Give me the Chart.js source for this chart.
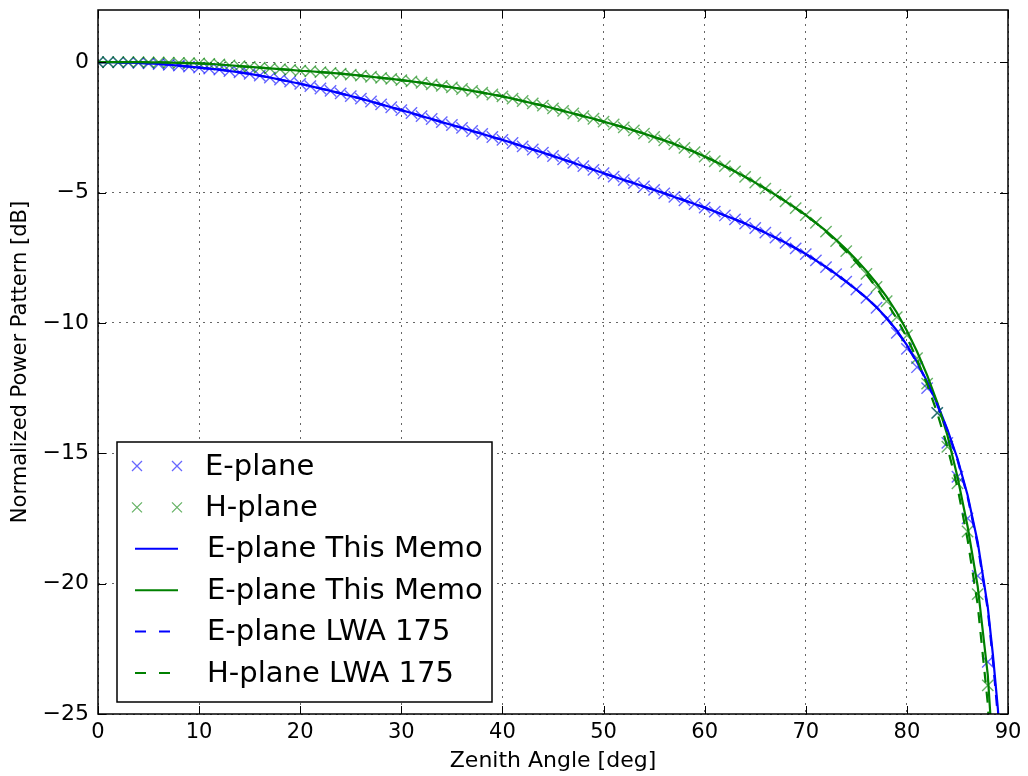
<!DOCTYPE html>
<html>
<head>
<meta charset="utf-8">
<script src="https://cdn.jsdelivr.net/npm/chart.js@4.4.1/dist/chart.umd.min.js"></script>
<style>
  html, body { margin: 0; padding: 0; background: #fff; }
  #patternChart { display: block; }
</style>
</head>
<body>
<canvas id="patternChart" width="1028" height="776"></canvas>
<script>
// zenith angles (deg) where the measured points sit
const markAngles = [
  0, 1, 2, 3, 4, 5, 6, 7, 8, 9, 10, 11, 12, 13, 14, 15, 16, 17, 18, 19,
  20, 21, 22, 23, 24, 25, 26, 27, 28, 29, 30, 31, 32, 33, 34, 35, 36, 37, 38, 39,
  40, 41, 42, 43, 44, 45, 46, 47, 48, 49, 50, 51, 52, 53, 54, 55, 56, 57, 58, 59,
  60, 61, 62, 63, 64, 65, 66, 67, 68, 69, 70, 71, 72, 73, 74, 75, 76, 77, 78, 79,
  80, 81, 82, 83, 84, 85, 86, 87, 88
];
const extraAngles = [88.5, 89, 89.5];

// E-plane, 0..76 deg, shared by markers and both curves (they overlap there)
const eHead = [
  0, 0, -0.01, -0.02, -0.03, -0.05, -0.07, -0.10, -0.13, -0.17,
  -0.21, -0.25, -0.29, -0.34, -0.39, -0.45, -0.52, -0.59, -0.67, -0.75,
  -0.83, -0.92, -1.01, -1.10, -1.20, -1.30, -1.40, -1.51, -1.62, -1.73,
  -1.84, -1.95, -2.07, -2.18, -2.30, -2.41, -2.52, -2.64, -2.75, -2.87,
  -2.98, -3.10, -3.23, -3.35, -3.47, -3.60, -3.73, -3.86, -3.99, -4.13,
  -4.26, -4.39, -4.52, -4.64, -4.77, -4.90, -5.03, -5.17, -5.30, -5.44,
  -5.58, -5.73, -5.88, -6.03, -6.19, -6.36, -6.54, -6.73, -6.93, -7.14,
  -7.36, -7.60, -7.86, -8.13, -8.42, -8.72, -9.04
];
const eMarkTail = [-9.42, -9.85, -10.38, -11.0, -11.7, -12.5, -13.45, -14.6, -15.9, -17.5, -19.7, -23.0];
const eMemoTail = [-9.40, -9.81, -10.29, -10.85, -11.5, -12.25, -13.1, -14.08, -15.2, -16.6, -18.4, -20.9, -22.7, -24.8, -28];
const eLwaTail = [-9.40, -9.82, -10.31, -10.87, -11.53, -12.28, -13.14, -14.12, -15.25, -16.66, -18.5, -21.0, -22.9, -25.1, -28.5];

// H-plane, 0..71 deg
const hHead = [
  0, 0, 0, 0, 0, -0.01, -0.01, -0.02, -0.03, -0.04,
  -0.05, -0.07, -0.09, -0.12, -0.15, -0.18, -0.21, -0.24, -0.27, -0.30,
  -0.33, -0.35, -0.38, -0.41, -0.44, -0.48, -0.52, -0.56, -0.60, -0.64,
  -0.69, -0.74, -0.79, -0.85, -0.91, -0.97, -1.03, -1.10, -1.17, -1.24,
  -1.31, -1.40, -1.49, -1.58, -1.67, -1.77, -1.87, -1.97, -2.07, -2.17,
  -2.28, -2.39, -2.50, -2.62, -2.74, -2.87, -3.00, -3.14, -3.29, -3.45,
  -3.62, -3.80, -3.99, -4.19, -4.40, -4.62, -4.85, -5.09, -5.34, -5.60,
  -5.87, -6.16
];
const hMarkTail = [-6.5, -6.86, -7.25, -7.67, -8.12, -8.62, -9.17, -9.78, -10.48, -11.35, -12.33, -13.45, -14.75, -16.15, -18.0, -20.4, -23.9];
const hMemoTail = [-6.47, -6.81, -7.18, -7.58, -8.01, -8.48, -9.0, -9.6, -10.3, -11.1, -12.0, -13.05, -14.3, -15.9, -17.8, -20.1, -23.5, -26.5, -31, -38];
const hLwaTail = [-6.5, -6.87, -7.26, -7.68, -8.14, -8.65, -9.21, -9.84, -10.56, -11.4, -12.35, -13.45, -14.75, -16.3, -18.3, -20.8, -24.6, -28, -33, -40];

const xTicks = [0, 10, 20, 30, 40, 50, 60, 70, 80, 90];
const yTicks = [-25, -20, -15, -10, -5, 0];

const BLUE = "#0000ff";
const GREEN = "#008000";
const FONT = "'DejaVu Sans', 'Liberation Sans', sans-serif";

function toPoints(xs, ys) {
  return ys.map((y, i) => ({ x: xs[i], y }));
}

const lineAngles = markAngles.concat(extraAngles);

function markerSet(label, color, values) {
  return {
    label,
    data: toPoints(markAngles, values),
    showLine: false,
    pointStyle: "crossRot",
    pointRadius: 8,
    pointBorderWidth: 1.4,
    pointBorderColor: color,
    borderColor: color,
    backgroundColor: color
  };
}

function lineSet(label, color, values, dash) {
  return {
    label,
    data: toPoints(lineAngles, values),
    borderColor: color,
    borderWidth: 2.2,
    borderDash: dash,
    pointRadius: 0,
    tension: 0,
    fill: false
  };
}

const datasets = [
  { ...markerSet("E-plane", "rgba(0, 0, 255, 0.6)", eHead.concat(eMarkTail)), order: 6 },
  { ...markerSet("H-plane", "rgba(0, 128, 0, 0.6)", hHead.concat(hMarkTail)), order: 5 },
  { ...lineSet("E-plane This Memo", BLUE, eHead.concat(eMemoTail), []), order: 4 },
  { ...lineSet("E-plane This Memo", GREEN, hHead.concat(hMemoTail), []), order: 3 },
  { ...lineSet("E-plane LWA 175", BLUE, eHead.concat(eLwaTail), [11, 9]), order: 2 },
  { ...lineSet("H-plane LWA 175", GREEN, hHead.concat(hLwaTail), [11, 9]), order: 1 }
];

// white page, black frame, inward ticks on all four sides
const framePlugin = {
  id: "frame",
  beforeDraw(chart) {
    const ctx = chart.ctx;
    ctx.save();
    ctx.fillStyle = "#fff";
    ctx.fillRect(0, 0, chart.width, chart.height);
    ctx.restore();
  },
  afterDraw(chart) {
    const { ctx, chartArea: a, scales } = chart;
    ctx.save();
    ctx.strokeStyle = "#000";
    ctx.lineWidth = 1;
    ctx.beginPath();
    xTicks.forEach((v) => {
      const px = Math.round(scales.x.getPixelForValue(v)) + 0.5;
      ctx.moveTo(px, a.bottom); ctx.lineTo(px, a.bottom - 8);
      ctx.moveTo(px, a.top); ctx.lineTo(px, a.top + 8);
    });
    yTicks.forEach((v) => {
      const py = Math.round(scales.y.getPixelForValue(v)) + 0.5;
      ctx.moveTo(a.left, py); ctx.lineTo(a.left + 8, py);
      ctx.moveTo(a.right, py); ctx.lineTo(a.right - 8, py);
    });
    ctx.stroke();
    ctx.lineWidth = 1.5;
    ctx.strokeRect(a.left, a.top, a.right - a.left, a.bottom - a.top);
    ctx.restore();
  }
};

// legend box in the lower left of the plot, built from the datasets
const legendPlugin = {
  id: "boxLegend",
  afterDraw(chart) {
    const ctx = chart.ctx;
    const box = { x: 117, y: 442, w: 375, h: 260 };
    ctx.save();
    ctx.fillStyle = "#fff";
    ctx.fillRect(box.x, box.y, box.w, box.h);
    ctx.strokeStyle = "#000";
    ctx.lineWidth = 1.5;
    ctx.strokeRect(box.x, box.y, box.w, box.h);
    ctx.font = `29px ${FONT}`;
    ctx.textBaseline = "middle";
    chart.data.datasets.forEach((ds, i) => {
      const cy = 466 + i * 41.4;
      if (ds.showLine === false) {
        ctx.strokeStyle = ds.pointBorderColor;
        ctx.lineWidth = 1.3;
        ctx.setLineDash([]);
        [137, 177].forEach((cx) => {
          const r = 5;
          ctx.beginPath();
          ctx.moveTo(cx - r, cy - r); ctx.lineTo(cx + r, cy + r);
          ctx.moveTo(cx - r, cy + r); ctx.lineTo(cx + r, cy - r);
          ctx.stroke();
        });
        ctx.fillStyle = "#000";
        ctx.fillText(ds.label, 205, cy + 1);
      } else {
        ctx.strokeStyle = ds.borderColor;
        ctx.lineWidth = 2;
        ctx.setLineDash(ds.borderDash && ds.borderDash.length ? [11, 13] : []);
        ctx.beginPath();
        ctx.moveTo(135, cy); ctx.lineTo(178, cy);
        ctx.stroke();
        ctx.setLineDash([]);
        ctx.fillStyle = "#000";
        ctx.fillText(ds.label, 207, cy + 1);
      }
    });
    ctx.restore();
  }
};

const minusLabel = (v) => String(v).replace("-", "\u2212");

new Chart(document.getElementById("patternChart"), {
  type: "line",
  data: { datasets },
  options: {
    responsive: false,
    animation: false,
    layout: { padding: { top: 10, right: 20, left: 0, bottom: 0 } },
    plugins: { legend: { display: false }, tooltip: { enabled: false } },
    scales: {
      x: {
        type: "linear",
        min: 0,
        max: 90,
        afterBuildTicks: (s) => { s.ticks = xTicks.map((value) => ({ value })); },
        afterFit: (s) => { s.height = 62; s.paddingLeft = 0; s.paddingRight = 0; },
        ticks: { color: "#000", font: { family: FONT, size: 21 }, padding: 6, maxRotation: 0 },
        grid: { color: "rgba(0,0,0,0.6)", lineWidth: 1, drawTicks: false },
        border: { display: false, dash: [2, 5] },
        title: {
          display: true,
          text: "Zenith Angle [deg]",
          color: "#000",
          font: { family: FONT, size: 22 },
          padding: { top: 0, bottom: 2 }
        }
      },
      y: {
        type: "linear",
        min: -25,
        max: 2,
        afterBuildTicks: (s) => { s.ticks = yTicks.map((value) => ({ value })); },
        afterFit: (s) => { s.width = 98; s.paddingTop = 0; s.paddingBottom = 0; },
        ticks: { color: "#000", font: { family: FONT, size: 22 }, padding: 9, callback: minusLabel },
        grid: { color: "rgba(0,0,0,0.6)", lineWidth: 1, drawTicks: false },
        border: { display: false, dash: [2, 5] },
        title: {
          display: true,
          text: "Normalized Power Pattern [dB]",
          color: "#000",
          font: { family: FONT, size: 21 },
          padding: { top: 8, bottom: 0 }
        }
      }
    }
  },
  plugins: [framePlugin, legendPlugin]
});
</script>
</body>
</html>
